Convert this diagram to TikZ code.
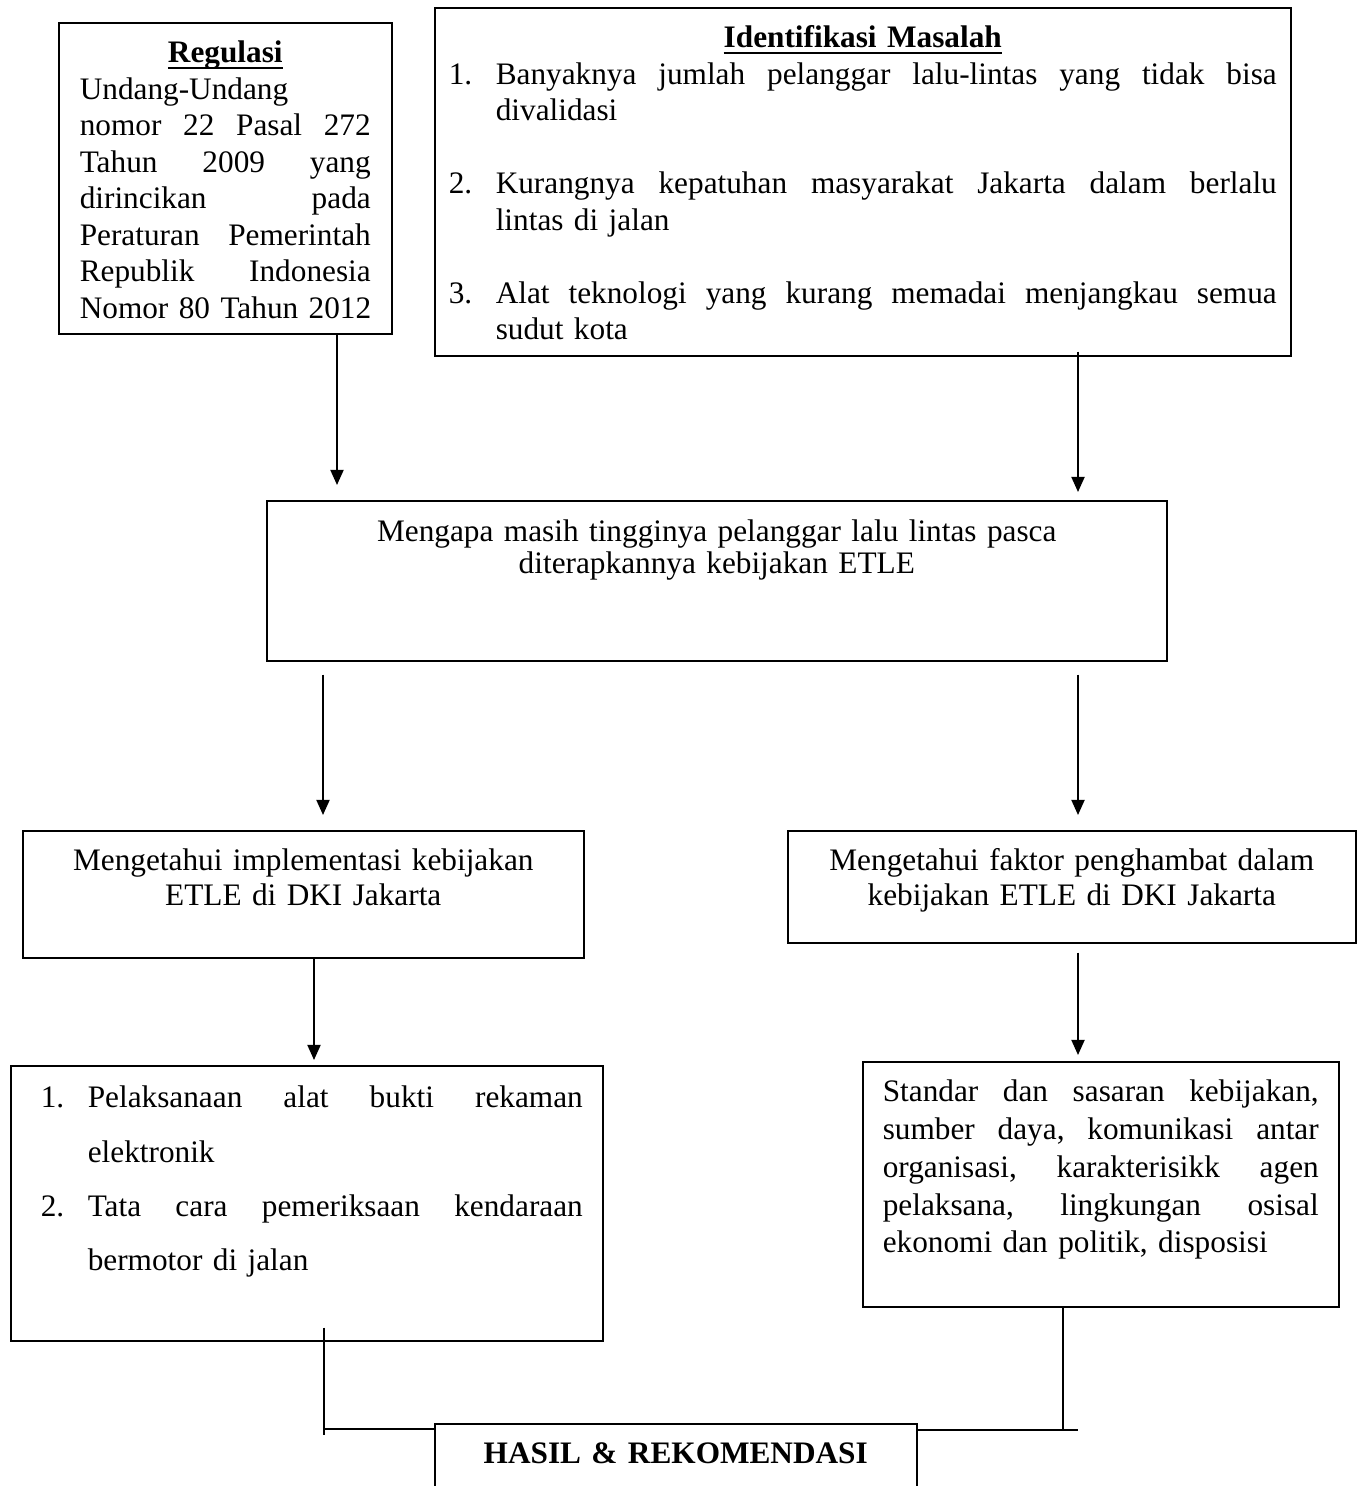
\documentclass[tikz,border=0pt]{standalone}
\usepackage{fontspec}
\setmainfont{Liberation Serif}
\usetikzlibrary{arrows.meta, calc}
\newcommand{\garisbawah}[1]{\setbox0\hbox{#1}\rlap{\rule[-2.5pt]{\wd0}{0.7pt}}\box0}

\begin{document}
\begin{tikzpicture}[x=0.3836pt, y=-0.3836pt,
        font=\fontsize{12}{14}\selectfont,
        kotak/.style={draw, line width=0.6pt, inner sep=0pt, anchor=north west},
        panah/.style={-{Triangle[length=5.8pt,width=5pt]}, line width=0.75pt},
        garis/.style={line width=0.75pt},
        garistebal/.style={line width=1.1pt}]
            \useasboundingbox (0,0) rectangle (1362,1486);
            \node[kotak, minimum width=127.74pt, text width=111.63pt, text height=15.34pt, text depth=103.96pt] (reg) at (58,22) {%
                \hfill\garisbawah{\textbf{Regulasi}}\hfill\null\\
                Undang-Undang\\
                nomor\hfill 22\hfill Pasal\hfill 272\\
                Tahun\hfill 2009\hfill yang\\
                dirincikan\hfill pada\\
                Peraturan\hfill Pemerintah\\
                Republik\hfill Indonesia\\
                \makebox[\linewidth][s]{Nomor 80 Tahun 2012}};
            \node[kotak, minimum width=328.36pt, text width=317.62pt, text height=15.34pt, text depth=118.15pt] (ident) at (434,7) {%
                \hfill\garisbawah{\textbf{Identifikasi Masalah}}\hfill\null\\
                \makebox[18.03pt][l]{1.}Banyaknya\hfill jumlah\hfill pelanggar\hfill lalu-lintas\hfill yang\hfill tidak\hfill bisa\\
                \hspace*{18.03pt}divalidasi\\[14pt]
                \makebox[18.03pt][l]{2.}Kurangnya\hfill kepatuhan\hfill masyarakat\hfill Jakarta\hfill dalam\hfill berlalu\\
                \hspace*{18.03pt}lintas di jalan\\[14pt]
                \makebox[18.03pt][l]{3.}Alat\hfill teknologi\hfill yang\hfill kurang\hfill memadai\hfill menjangkau\hfill semua\\
                \hspace*{18.03pt}sudut kota};
            \node[kotak, minimum width=345.24pt, text width=337.57pt, text height=15.73pt, text depth=45.65pt, align=center,
                font=\fontsize{12}{12.2}\selectfont] (mid) at (266,500)
                {Mengapa masih tingginya pelanggar lalu lintas pasca\\ diterapkannya kebijakan ETLE};
            \node[kotak, minimum width=215.2pt, text width=207.53pt, text height=15.34pt, text depth=33.37pt, align=center,
                font=\fontsize{12}{13.3}\selectfont] (imp) at (22,830)
                {Mengetahui implementasi kebijakan\\ ETLE di DKI Jakarta};
            \node[kotak, minimum width=217.88pt, text width=210.21pt, text height=15.34pt, text depth=27.62pt, align=center,
                font=\fontsize{12}{13.3}\selectfont] (fak) at (787,830)
                {Mengetahui faktor penghambat dalam\\ kebijakan ETLE di DKI Jakarta};
            \node[kotak, minimum width=227.09pt, text width=211.75pt, text height=16.11pt, text depth=89.38pt,
                font=\fontsize{12}{20.8}\selectfont] (pel) at (10,1065) {%
                \hspace*{3.84pt}\makebox[18.03pt][l]{1.}Pelaksanaan\hfill alat\hfill bukti\hfill rekaman\\
                \hspace*{21.87pt}elektronik\\
                \hspace*{3.84pt}\makebox[18.03pt][l]{2.}Tata\hfill cara\hfill pemeriksaan\hfill kendaraan\\
                \hspace*{21.87pt}bermotor di jalan};
            \node[kotak, minimum width=182.59pt, text width=167.25pt, text height=15.34pt, text depth=78.64pt,
                font=\fontsize{12}{14.5}\selectfont] (std) at (862,1061) {%
                Standar\hfill dan\hfill sasaran\hfill kebijakan,\\
                sumber\hfill daya,\hfill komunikasi\hfill antar\\
                organisasi,\hfill karakterisikk\hfill agen\\
                pelaksana,\hfill lingkungan\hfill osisal\\
                ekonomi dan politik, disposisi};
            \node[kotak, minimum width=184.9pt, text width=177.22pt, text height=15.34pt, text depth=14.19pt, align=center] (hasil) at (434,1423)
                {\textbf{HASIL \& REKOMENDASI}};
            \coordinate (ka) at (337,0);
            \coordinate (kb) at (1078,0);
            \coordinate (kc) at (323,0);
            \coordinate (kd) at (314,0);
            \coordinate (ke) at (324,0);
            \coordinate (kf) at (1063,0);
            \coordinate (ujung) at (1078,1430);
            \draw[panah] (reg.south -| ka) -- ($(mid.north -| ka)+(0,-15)$);
            \draw[panah] ($(ident.south -| kb)+(0,-5)$) -- ($(mid.north -| kb)+(0,-8)$);
            \draw[panah] ($(mid.south -| kc)+(0,13)$) -- ($(imp.north -| kc)+(0,-15)$);
            \draw[panah] ($(mid.south -| kb)+(0,13)$) -- ($(fak.north -| kb)+(0,-15)$);
            \draw[panah] (imp.south -| kd) -- ($(pel.north -| kd)+(0,-5)$);
            \draw[panah] ($(fak.south -| kb)+(0,9)$) -- ($(std.north -| kb)+(0,-6)$);
            \draw[garis] ($(pel.south -| ke)+(0,-14)$) -- ($(hasil.north -| ke)+(0,12)$);
            \draw[garistebal] ($(hasil.north west)+(0,6)$) -- ($(hasil.north west -| ke)+(0,6)$);
            \draw[garis] (std.south -| kf) -- ($(hasil.north -| kf)+(0,7)$);
            \draw[garistebal] ($(hasil.north east)+(0,7)$) -- (ujung);
        \end{tikzpicture}
\end{document}
